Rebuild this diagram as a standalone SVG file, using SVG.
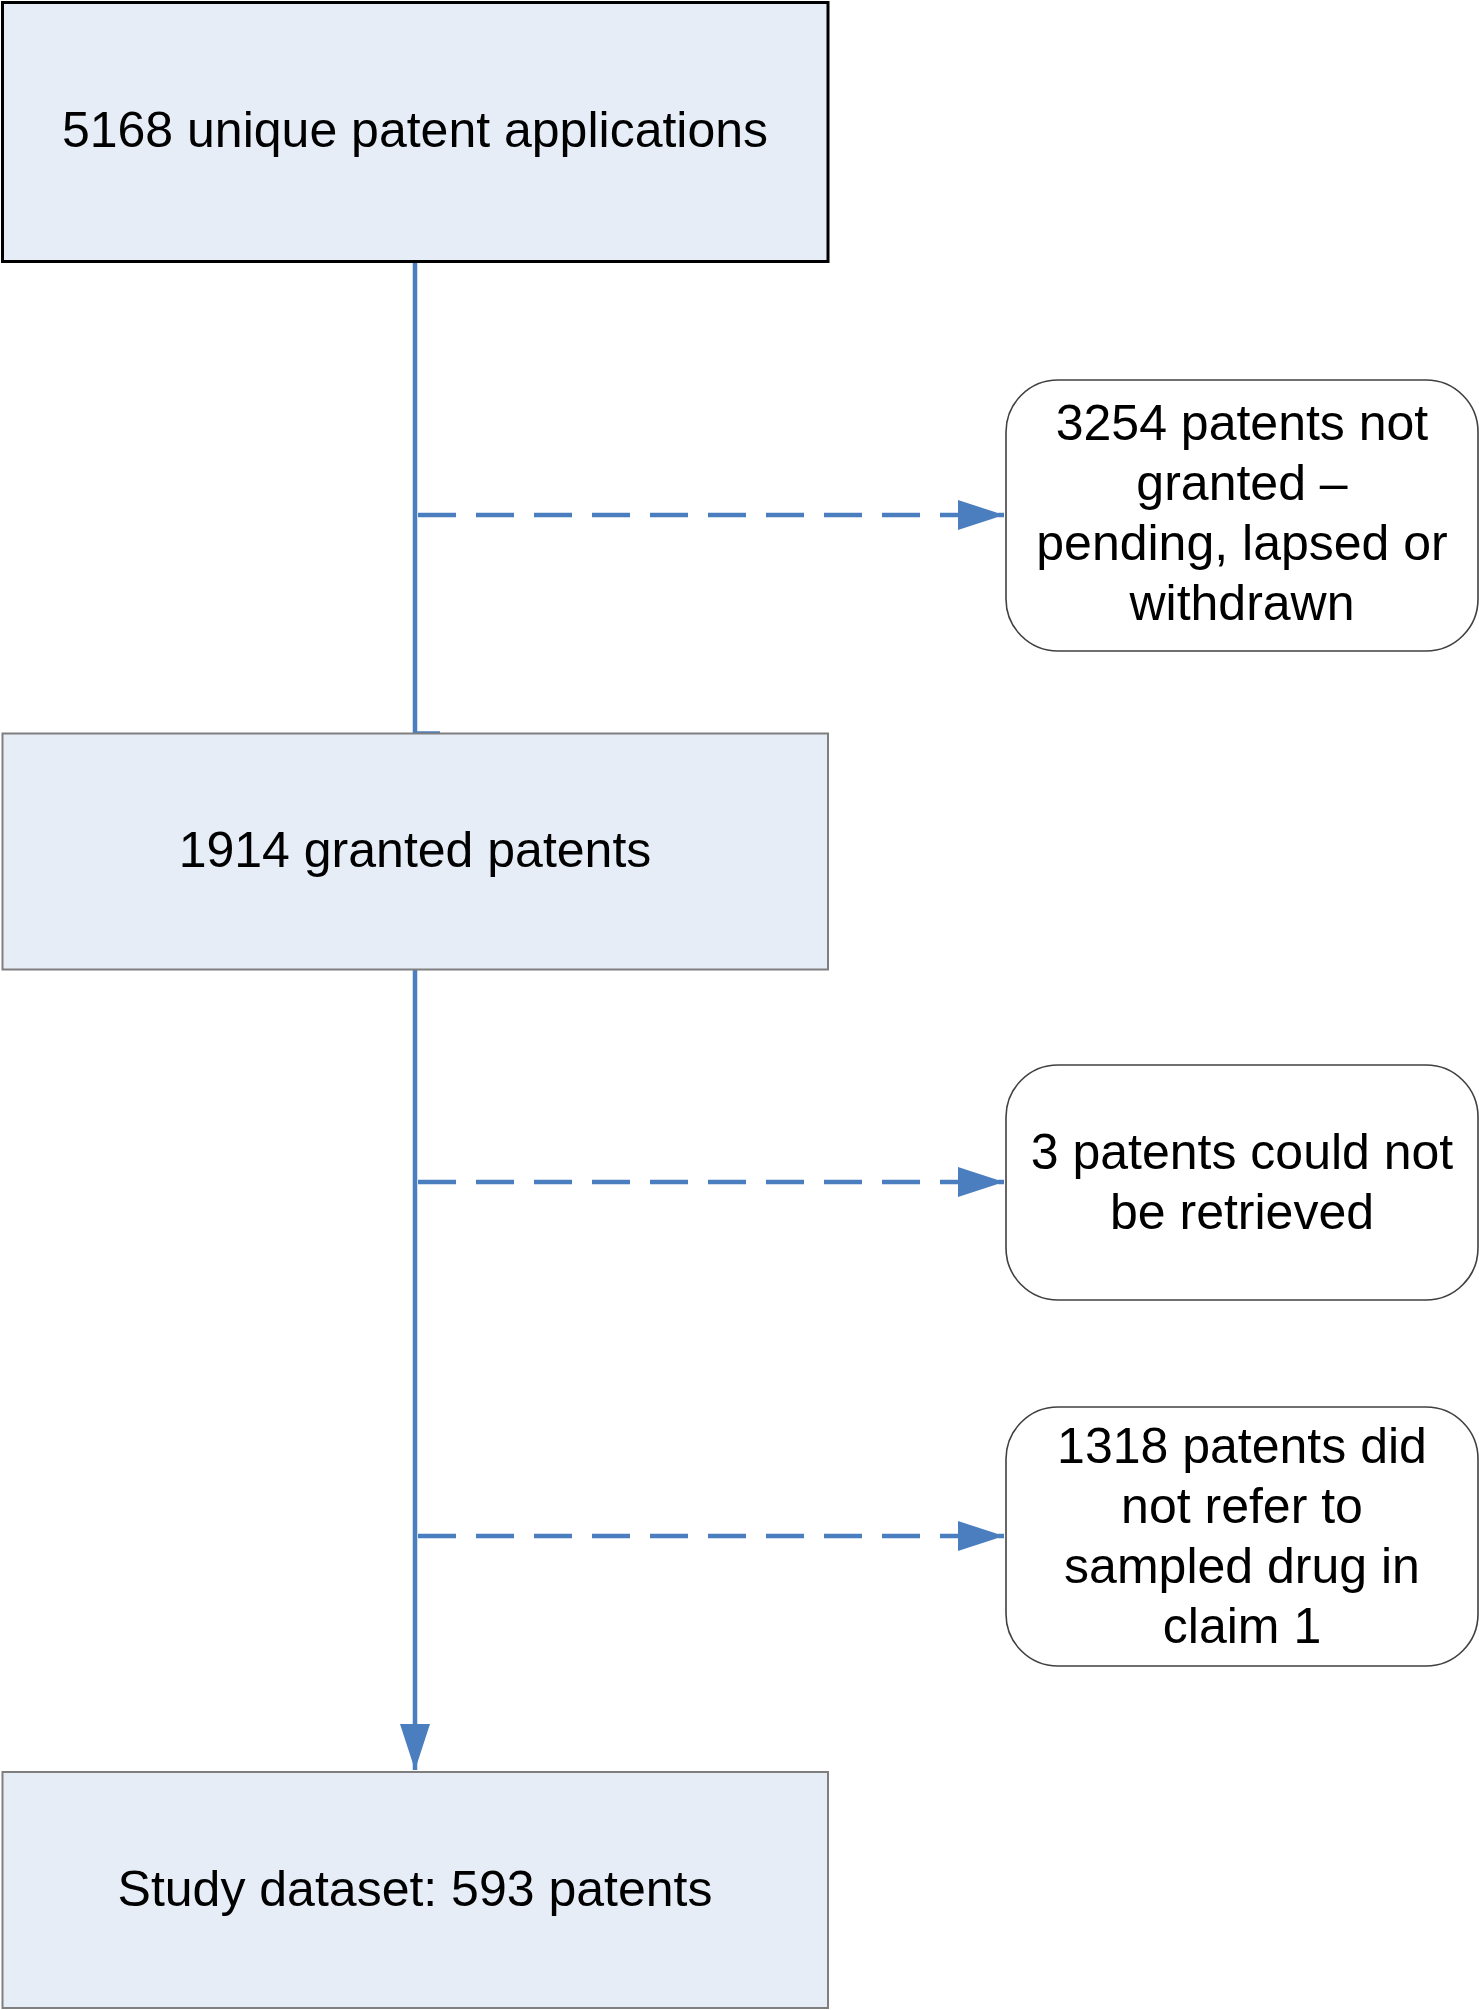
<svg xmlns="http://www.w3.org/2000/svg" width="1479" height="2010" viewBox="0 0 1479 2010">
<style>
.box{fill:#E6EDF7;stroke:#7F7F7F;stroke-width:2}
.top{fill:#E6EDF7;stroke:#000;stroke-width:3}
.rbox{fill:#FFF;stroke:#404040;stroke-width:1.6}
.t{font-family:"Liberation Sans",Arial,sans-serif;font-size:50px;fill:#000;text-anchor:middle}
.c{fill:none;stroke:#4A7EBF;stroke-width:4.5}
.d{fill:none;stroke:#4A7EBF;stroke-width:4.5;stroke-dasharray:38 20}
</style>
<defs>
<marker id="ah" markerUnits="userSpaceOnUse" markerWidth="46" markerHeight="30" refX="46" refY="15" orient="auto">
<path d="M0,0 L46,15 L0,30 z" fill="#4A7EBF"/>
</marker>
</defs>
<rect width="1479" height="2010" fill="#FFF"/>
<g id="connectors">
<path class="c" d="M415,262 L415,733.5 L440,733.5"/>
<path class="c" d="M415,970 L415,1770" marker-end="url(#ah)"/>
<path class="d" d="M418,515 L1004,515" marker-end="url(#ah)"/>
<path class="d" d="M418,1182 L1004,1182" marker-end="url(#ah)"/>
<path class="d" d="M418,1536 L1004,1536" marker-end="url(#ah)"/>
</g>
<g id="n1">
<rect class="top" x="2.5" y="2.5" width="825.5" height="259"/>
<text class="t" x="415" y="147">5168 unique patent applications</text>
</g>
<g id="n2">
<rect class="rbox" x="1006" y="380" width="472" height="271" rx="52" ry="52"/>
<text class="t" x="1242" y="440">3254 patents not</text>
<text class="t" x="1242" y="500">granted –</text>
<text class="t" x="1242" y="560">pending, lapsed or</text>
<text class="t" x="1242" y="620">withdrawn</text>
</g>
<g id="n3">
<rect class="box" x="2.5" y="733.5" width="825.5" height="236"/>
<text class="t" x="415" y="867">1914 granted patents</text>
</g>
<g id="n4">
<rect class="rbox" x="1006" y="1065" width="472" height="235" rx="52" ry="52"/>
<text class="t" x="1242" y="1169">3 patents could not</text>
<text class="t" x="1242" y="1229">be retrieved</text>
</g>
<g id="n5">
<rect class="rbox" x="1006" y="1407" width="472" height="259" rx="52" ry="52"/>
<text class="t" x="1242" y="1463">1318 patents did</text>
<text class="t" x="1242" y="1523">not refer to</text>
<text class="t" x="1242" y="1583">sampled drug in</text>
<text class="t" x="1242" y="1643">claim 1</text>
</g>
<g id="n6">
<rect class="box" x="2.5" y="1772" width="825.5" height="236"/>
<text class="t" x="415" y="1906">Study dataset: 593 patents</text>
</g>
</svg>
